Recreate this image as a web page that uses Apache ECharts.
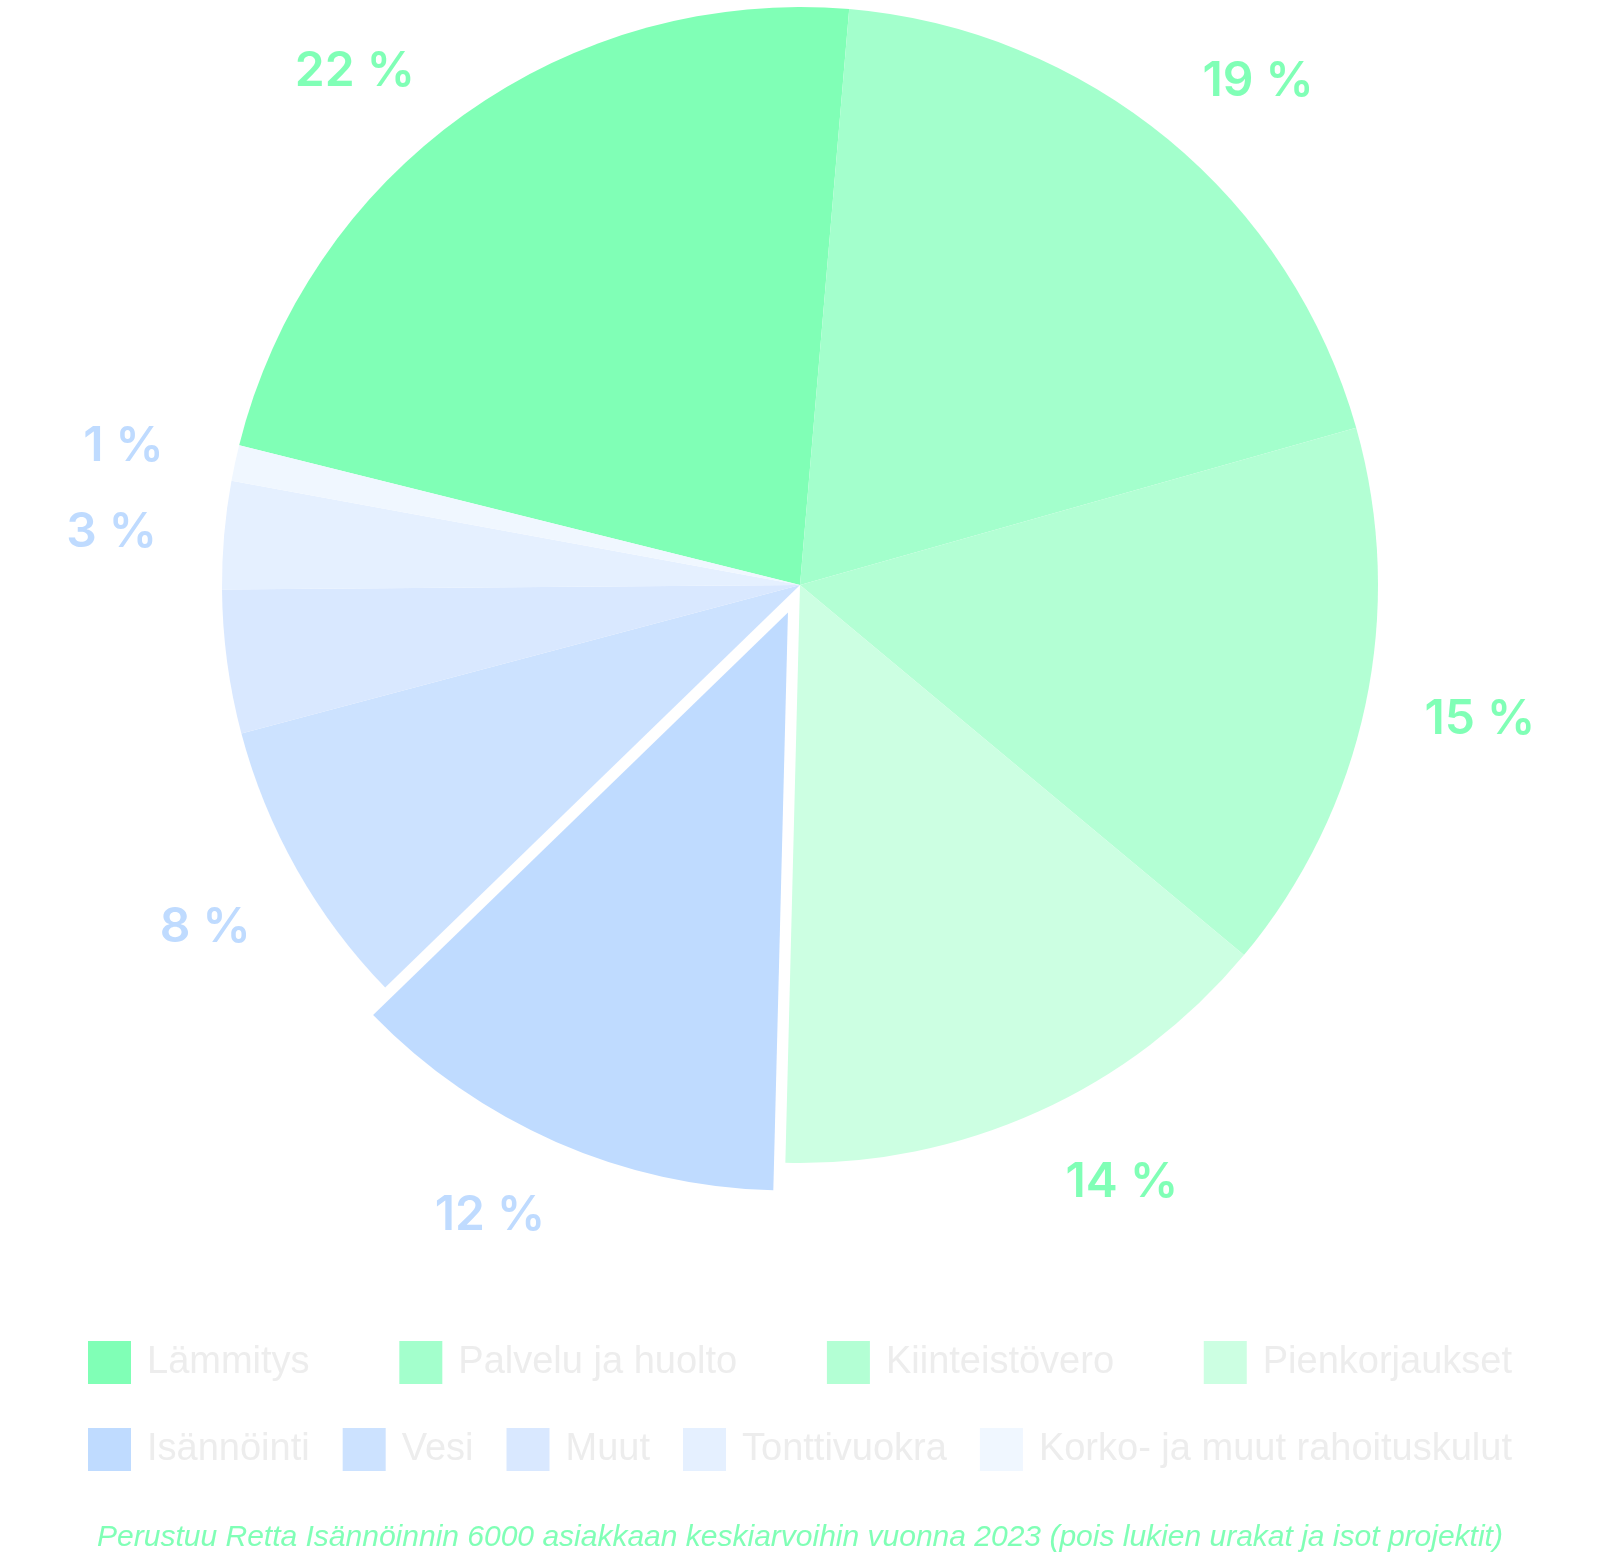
<!DOCTYPE html>
<html>
<head>
<meta charset="utf-8">
<title>Kustannusjakauma</title>
<script src="https://cdn.jsdelivr.net/npm/echarts@6/dist/echarts.min.js"></script>
<style>
  html, body { margin: 0; padding: 0; background: #fff; }
  #main { width: 1600px; height: 1557px; }
</style>
</head>
<body>
<div id="main"></div>
<script>
// kategoriat ja osuudet (%)
var categories = ['Lämmitys', 'Palvelu ja huolto', 'Kiinteistövero', 'Pienkorjaukset',
    'Isännöinti', 'Vesi', 'Muut', 'Tonttivuokra', 'Korko- ja muut rahoituskulut'];
var shares = [22.4, 19.2, 15.4, 14.3, 12.3, 8.1, 4.0, 3.0, 1.0];
var sliceColors = ['#80FFB6', '#A3FFCC', '#B3FFD4', '#CCFFE2',
    '#BFDBFF', '#CCE2FF', '#D9E8FF', '#E5F0FF', '#F0F7FF'];
var labelColors = ['#80FFB6', '#80FFB6', '#80FFB6', '#80FFB6',
    '#BFDBFF', '#BFDBFF', '#BFDBFF', '#BFDBFF', '#BFDBFF'];
var hiddenLabels = ['Muut'];
var selectedSlice = 'Isännöinti';
var legendRows = [categories.slice(0, 4), categories.slice(4)];
var footnote = 'Perustuu Retta Isännöinnin 6000 asiakkaan keskiarvoihin vuonna 2023 (pois lukien urakat ja isot projektit)';

// prosenttitekstien pieni siirto keskikulmasta (px)
var labelNudge = {
    'Lämmitys': [-45, 46],
    'Palvelu ja huolto': [20, 27],
    'Kiinteistövero': [7, -9],
    'Pienkorjaukset': [38, -29],
    'Isännöinti': [-34, 0],
    'Vesi': [4, 4],
    'Tonttivuokra': [-3, 7],
    'Korko- ja muut rahoituskulut': [-4, 7]
};

var legendFont = 'Liberation Sans, Arial, sans-serif';
var legendSize = 38;
var iconSize = 43;
var textPad = 11;
var legendLeft = 88, legendRight = 1512;

// legendan rivit tasataan koko leveydelle
function rowGap(names) {
    var ctx = document.createElement('canvas').getContext('2d');
    ctx.font = legendSize + 'px ' + legendFont;
    var used = 0;
    names.forEach(function (n) {
        used += iconSize + 5 + textPad + ctx.measureText(n).width;
    });
    return (legendRight - legendLeft - used) / (names.length - 1);
}

var myChart = echarts.init(document.getElementById('main'));

var pieData = categories.map(function (name, i) {
    return {
        name: name,
        value: shares[i],
        selected: name === selectedSlice,
        itemStyle: { color: sliceColors[i] }
    };
});

var labelData = categories.map(function (name, i) {
    return {
        name: name,
        value: shares[i],
        label: {
            show: hiddenLabels.indexOf(name) < 0,
            color: labelColors[i],
            offset: labelNudge[name] || [0, 0]
        }
    };
});

var option = {
    animation: false,
    backgroundColor: '#ffffff',
    title: {
        text: footnote,
        left: 'center',
        top: 1523,
        padding: 0,
        textStyle: {
            fontFamily: legendFont,
            fontSize: 30,
            fontStyle: 'italic',
            fontWeight: 'normal',
            color: '#80FFB6'
        }
    },
    legend: legendRows.map(function (row, r) {
        return {
            data: row,
            orient: 'horizontal',
            left: legendLeft,
            top: r === 0 ? 1341 : 1428,
            padding: 0,
            itemGap: rowGap(row),
            itemWidth: iconSize,
            itemHeight: iconSize,
            icon: 'rect',
            selectedMode: false,
            textStyle: {
                fontFamily: legendFont,
                fontSize: legendSize,
                color: '#EDEDED',
                padding: [0, 0, 0, textPad]
            }
        };
    }),
    series: [
        {
            name: 'Kulut',
            type: 'pie',
            center: [800, 585],
            radius: 578,
            startAngle: 166,
            clockwise: true,
            selectedMode: 'single',
            selectedOffset: 30,
            label: { show: false },
            labelLine: { show: false },
            emphasis: { disabled: true },
            itemStyle: { borderWidth: 0 },
            data: pieData
        },
        {
            // läpinäkyvä rengas prosenttiteksteille
            name: 'Osuudet',
            type: 'pie',
            silent: true,
            center: [800, 585],
            radius: [660, 710],
            startAngle: 166,
            clockwise: true,
            itemStyle: { color: 'rgba(0,0,0,0)' },
            labelLine: { show: false },
            emphasis: { disabled: true },
            label: {
                show: true,
                position: 'inside',
                fontFamily: 'Inter, Liberation Sans, sans-serif',
                fontWeight: 600,
                fontSize: 48,
                formatter: function (p) {
                    return Math.round(p.value) + ' %';
                }
            },
            data: labelData
        }
    ]
};

myChart.setOption(option);
</script>
</body>
</html>
